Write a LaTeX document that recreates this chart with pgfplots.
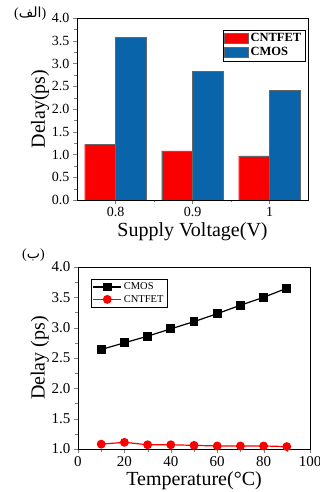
\documentclass[border=0pt]{standalone}
\usepackage{pgfplots}
\pgfplotsset{compat=1.18}
\usepackage{fontspec}
\setmainfont{Liberation Serif}
\newfontfamily\arabicfont[Script=Arabic]{DejaVu Sans}
\TeXXeTstate=1
\definecolor{cred}{RGB}{250,0,0}
\definecolor{cblue}{RGB}{10,100,170}
\begin{document}
\begin{tikzpicture}
\path[use as bounding box] (-77pt,-292pt) rectangle (243pt,200pt);
\begin{axis}[
  at={(0pt,0pt)}, anchor=south west,
  scale only axis, width=231pt, height=182pt,
  xmin=-0.5, xmax=2.5, ymin=0, ymax=4,
  xtick={0,1,2}, xticklabels={0.8,0.9,1},
  minor xtick={0.5,1.5},
  ytick={0,0.5,...,4}, minor y tick num=1,
  yticklabel={\pgfmathprintnumber[fixed,fixed zerofill,precision=1,assume math mode=true]{\tick}},
  tick align=outside, tick pos=left,
  major tick length=4pt, minor tick length=2.5pt,
  ticklabel style={font=\fontsize{14}{14}\selectfont},
  xlabel={Supply Voltage(V)}, ylabel={Delay(ps)},
  label style={font=\fontsize{20}{20}\selectfont},
  xlabel style={yshift=1pt}, ylabel style={yshift=-4pt},
  legend style={at={(0.987,0.934)}, anchor=north east, draw=black, thin,
    font=\bfseries\fontsize{12.5}{13.5}\selectfont, inner sep=1.5pt, row sep=0pt,
    legend cell align=left},
  legend image code/.code={\draw[#1] (0pt,-4.5pt) rectangle (24pt,5.5pt);},
]
\addplot[ybar, bar width=0.4, bar shift=-0.2, fill=cred, draw=black!60, line width=0.3pt]
  coordinates {(0,1.23) (1,1.08) (2,0.97)};
\addlegendentry{CNTFET}
\addplot[ybar, bar width=0.4, bar shift=0.2, fill=cblue, draw=black!60, line width=0.3pt]
  coordinates {(0,3.58) (1,2.83) (2,2.41)};
\addlegendentry{CMOS}
\end{axis}
\node[anchor=west, inner sep=0pt, font=\fontsize{14}{14}\selectfont] at (-63pt,186pt)
  {({\arabicfont\beginR الف\endR})};
\begin{axis}[
  at={(1pt,-249pt)}, anchor=south west,
  scale only axis, width=232pt, height=182pt,
  xmin=0, xmax=100, ymin=1, ymax=4,
  xtick={0,20,...,100}, minor x tick num=1,
  ytick={1,1.5,...,4}, minor y tick num=1,
  yticklabel={\pgfmathprintnumber[fixed,fixed zerofill,precision=1,assume math mode=true]{\tick}},
  xticklabel={\pgfmathprintnumber[fixed,precision=0,assume math mode=true]{\tick}},
  tick align=outside, tick pos=left,
  major tick length=4pt, minor tick length=2.5pt,
  ticklabel style={font=\fontsize{15}{15}\selectfont},
  xlabel={Temperature(\textdegree C)}, ylabel={Delay (ps)},
  label style={font=\fontsize{20}{20}\selectfont},
  xlabel style={yshift=2pt}, ylabel style={yshift=-4pt},
  legend style={at={(0.056,0.934)}, anchor=north west, draw=black, thin,
    font=\fontsize{10.5}{11}\selectfont, inner sep=1.5pt, row sep=0pt,
    legend cell align=left},
  legend image code/.code={\draw[mark repeat=2,mark phase=2,#1] plot coordinates {(0pt,0pt) (14pt,0pt) (28pt,0pt)};},
]
\addplot[black, line width=1.2pt, mark=square*, mark size=3.8pt]
  coordinates {(10,2.64) (20,2.75) (30,2.86) (40,2.98) (50,3.10) (60,3.23) (70,3.37) (80,3.50) (90,3.65)};
\addlegendentry{CMOS}
\addplot[cred, line width=1.2pt, mark=*, mark size=3.8pt]
  coordinates {(10,1.08) (20,1.11) (30,1.07) (40,1.07) (50,1.06) (60,1.05) (70,1.05) (80,1.05) (90,1.04)};
\addlegendentry{CNTFET}
\end{axis}
\node[anchor=west, inner sep=0pt, font=\fontsize{14}{14}\selectfont] at (-55pt,-55pt)
  {({\arabicfont\beginR ب\endR})};
\end{tikzpicture}
\end{document}
